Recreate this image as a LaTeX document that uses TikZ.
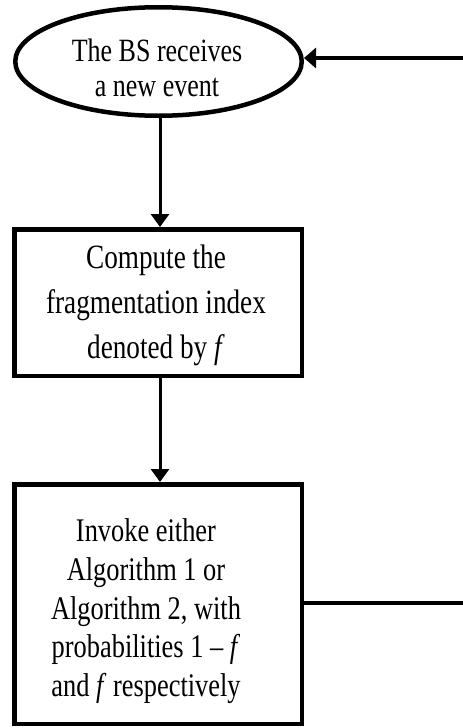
\documentclass[tikz,border=0pt]{standalone}
\usepackage{fontspec}
\setmainfont{Liberation Serif}[FakeStretch=0.8]
\usetikzlibrary{arrows.meta,shapes.geometric}
\begin{document}
\begin{tikzpicture}[x=1pt,y=1pt,
  shapeline/.style={draw=black,line width=4.5pt,inner sep=0pt},
  ovalbox/.style={shapeline,ellipse},
  rectbox/.style={shapeline,rectangle},
  txt/.style={align=center,inner sep=0pt,anchor=base},
  flowarrow/.style={line width=3pt,-{Triangle[length=13pt,width=18pt]}},
  looparrow/.style={line width=4.5pt,-{Triangle[length=12pt,width=20pt]}},
  loopline/.style={line width=4.5pt}]
\useasboundingbox (0,0) rectangle (463,-728);
\fill[white] (0,0) rectangle (463,-728);
% shapes
\node[ovalbox,minimum width=286.5pt,minimum height=108.5pt] (e) at (158.5,-61.5) {};
\node[rectbox,minimum width=287.5pt,minimum height=146.5pt] (b2) at (158,-302.5) {};
\node[rectbox,minimum width=287.5pt,minimum height=239.5pt] (b3) at (158,-604) {};
% texts (anchor at last baseline)
\node[txt,font={\fontsize{32.5}{34.5}\selectfont}] (te) at (157,-96) {The BS receives\\a new event};
\node[txt,font={\fontsize{34}{45}\selectfont}] (t2) at (156,-358) {Compute the\\fragmentation index\\denoted by \textit{f}};
\node[txt,font={\fontsize{33}{38.75}\selectfont}] (t3) at (146,-696.7) {Invoke either\\Algorithm 1 or\\Algorithm 2, with\\probabilities 1 – \textit{f}\\and \textit{f} respectively};
% connectors
\coordinate (r1) at (463,-58);
\coordinate (r3) at (463,-603);
\coordinate (x0) at (160,0);
\draw[flowarrow] (e.south -| x0) -- (b2.north -| x0);
\draw[flowarrow] (b2.south -| x0) -- (b3.north -| x0);
\draw[loopline] (b3.east |- r3) -- (r3);
\draw[looparrow] (r1) -- (r1 -| e.east);
\end{tikzpicture}
\end{document}
